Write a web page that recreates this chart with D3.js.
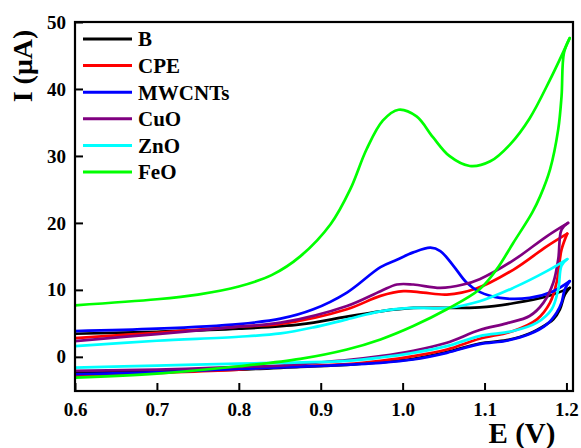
<!DOCTYPE html>
<html><head><meta charset="utf-8">
<script src="https://cdn.jsdelivr.net/npm/d3@7"></script>
<style>body{margin:0;background:#fff}svg{display:block}text{font-family:"Liberation Serif","Times New Roman",serif;font-weight:bold}</style>
</head><body><svg id="c" width="581" height="448"></svg>
<script>
const seriesNames = ["B","CPE","MWCNTs","CuO","ZnO","FeO"];
const seriesColors = ["#000000","#ff0000","#0000ff","#800080","#00ffff","#00ff00"];
const xTicks = [0.6,0.7,0.8,0.9,1.0,1.1,1.2];
const yTicks = [0,10,20,30,40,50];

// B
const bE = [0.6,0.7,0.8,0.875,0.932,0.973,1.013,1.054,1.094,1.135,1.176,1.204, 1.198,1.192,1.184,1.176,1.155,1.127,1.094,1.054,1.013,0.973,0.932,0.875,0.8,0.7,0.6];
const bI = [3.45,3.75,4.2,4.85,6.0,6.8,7.3,7.3,7.4,8.0,9.0,10.3, 9.3,7.1,5.6,4.9,3.5,2.5,2.0,0.7,-0.3,-0.8,-1.2,-1.5,-1.9,-2.2,-2.4];
// CPE
const cpeE = [0.6,0.7,0.8,0.851,0.932,0.973,1.001,1.025,1.054,1.09,1.135,1.176,1.201, 1.194,1.188,1.18,1.164,1.135,1.094,1.054,1.013,0.973,0.932,0.851,0.8,0.7,0.6];
const cpeI = [2.8,3.6,4.5,4.9,7.1,9.1,9.8,9.6,9.3,10.2,13.0,16.5,18.4, 16.0,11.1,8.1,5.6,3.85,2.7,1.1,0.1,-0.6,-1.1,-1.5,-1.9,-2.4,-2.9];
// MWCNTs
const mwE = [0.6,0.7,0.8,0.851,0.891,0.932,0.973,0.993,1.013,1.034,1.046,1.062,1.078,1.094,1.119,1.155,1.184,1.204, 1.198,1.194,1.188,1.176,1.155,1.127,1.094,1.054,1.013,0.973,0.891,0.8,0.7,0.6];
const mwI = [3.85,4.2,4.9,5.7,7.1,9.6,13.4,14.5,15.6,16.3,15.8,13.6,11.1,9.7,8.8,8.8,9.8,11.3, 10.1,8.1,6.6,4.85,3.4,2.4,1.9,0.6,-0.4,-0.9,-1.4,-1.8,-2.3,-2.6];
// CuO
const cuE = [0.6,0.7,0.8,0.851,0.932,0.973,0.993,1.013,1.046,1.074,1.094,1.135,1.176,1.202, 1.194,1.19,1.184,1.172,1.155,1.127,1.094,1.054,1.013,0.973,0.932,0.891,0.851,0.8,0.7,0.6];
const cuI = [2.35,3.4,4.5,5.1,7.6,9.8,10.8,10.8,10.3,10.8,11.6,14.4,18.0,20.0, 19.0,14.6,11.1,8.1,6.1,5.0,4.0,2.1,0.9,0.1,-0.5,-0.9,-1.3,-1.5,-1.9,-2.1];
// ZnO
const znE = [0.6,0.7,0.8,0.851,0.891,0.932,0.973,1.013,1.054,1.094,1.135,1.176,1.201, 1.194,1.19,1.182,1.164,1.135,1.094,1.054,1.013,0.973,0.932,0.851,0.8,0.7,0.6];
const znI = [1.6,2.4,3.0,3.5,4.4,5.6,6.8,7.3,7.3,8.3,10.3,12.8,14.6, 13.6,10.1,7.1,5.1,3.85,3.1,1.6,0.6,-0.1,-0.6,-0.9,-1.0,-1.3,-1.6];
// FeO
const feE = [0.6,0.7,0.75,0.8,0.84,0.875,0.912,0.936,0.956,0.976,0.995,1.017,1.037,1.057,1.082,1.107,1.131,1.155,1.18,1.204, 1.197,1.194,1.19,1.18,1.168,1.158,1.135,1.115,1.094,1.054,1.013,0.973,0.932,0.875,0.8,0.7,0.6];
const feI = [7.7,8.6,9.3,10.5,12.2,15.0,19.8,25.0,31.0,35.3,36.9,35.9,32.8,30.0,28.5,29.2,31.7,35.6,41.4,47.6, 45.4,38.9,34.0,28.0,24.0,21.5,17.0,13.1,10.1,7.1,4.6,2.6,1.1,-0.3,-1.4,-2.5,-3.1];

const seriesE = [bE,cpeE,mwE,cuE,znE,feE];
const seriesI = [bI,cpeI,mwI,cuI,znI,feI];

const L=75, R=573, T=22, B=391;
const svg = d3.select("#c");
const x = d3.scaleLinear().domain([0.6,1.208]).range([L,R]);
const y = d3.scaleLinear().domain([-5.1,50]).range([B,T]);

svg.append("defs").append("clipPath").attr("id","pc").append("rect")
  .attr("x",L).attr("y",T).attr("width",R-L).attr("height",B-T);

const line = d3.line().x(d=>x(d[0])).y(d=>y(d[1])).curve(d3.curveCatmullRom.alpha(0.5));
const g = svg.append("g").attr("clip-path","url(#pc)");
seriesNames.forEach((n,i)=>{
  const pts = seriesE[i].map((e,k)=>[e,seriesI[i][k]]);
  let im = 0; pts.forEach((p,k)=>{ if(p[0]>pts[im][0]) im=k; });
  const fwd = pts.slice(0,im+1), rev = pts.slice(im);
  [fwd,rev].forEach(br=>{
    g.append("path").attr("d",line(br)).attr("fill","none")
     .attr("stroke",seriesColors[i]).attr("stroke-width",2.7)
     .attr("stroke-linejoin","round").attr("stroke-linecap","round");
  });
});

// frame
svg.append("rect").attr("x",L).attr("y",T).attr("width",R-L).attr("height",B-T)
  .attr("fill","none").attr("stroke","#000").attr("stroke-width",2.2);

const xa = svg.append("g").attr("transform",`translate(0,${B})`)
  .call(d3.axisBottom(x).tickValues(xTicks).tickFormat(d3.format(".1f")).tickSizeInner(-8).tickSizeOuter(0).tickPadding(12));
const ya = svg.append("g").attr("transform",`translate(${L},0)`)
  .call(d3.axisLeft(y).tickValues(yTicks).tickFormat(d3.format("d")).tickSizeInner(-8).tickSizeOuter(0).tickPadding(9));
[xa,ya].forEach(a=>{
  a.select(".domain").remove();
  a.selectAll(".tick line").attr("stroke","#000").attr("stroke-width",2);
  a.selectAll(".tick text").attr("fill","#000").style("font-size","19px").style("font-family","Liberation Serif").style("font-weight","bold");
});

svg.append("text").attr("transform","translate(32,66) rotate(-90)").attr("text-anchor","middle")
  .style("font-size","28px").text("I (μA)");
svg.append("text").attr("x",522).attr("y",443).attr("text-anchor","middle")
  .style("font-size","29px").text("E (V)");

const lg = svg.append("g");
seriesNames.forEach((n,i)=>{
  const yy = 39 + i*26.6;
  lg.append("line").attr("x1",83).attr("x2",132).attr("y1",yy).attr("y2",yy)
    .attr("stroke",seriesColors[i]).attr("stroke-width",3);
  lg.append("text").attr("x",138).attr("y",yy).attr("dy","0.35em")
    .style("font-size","21px").text(n);
});
</script></body></html>
